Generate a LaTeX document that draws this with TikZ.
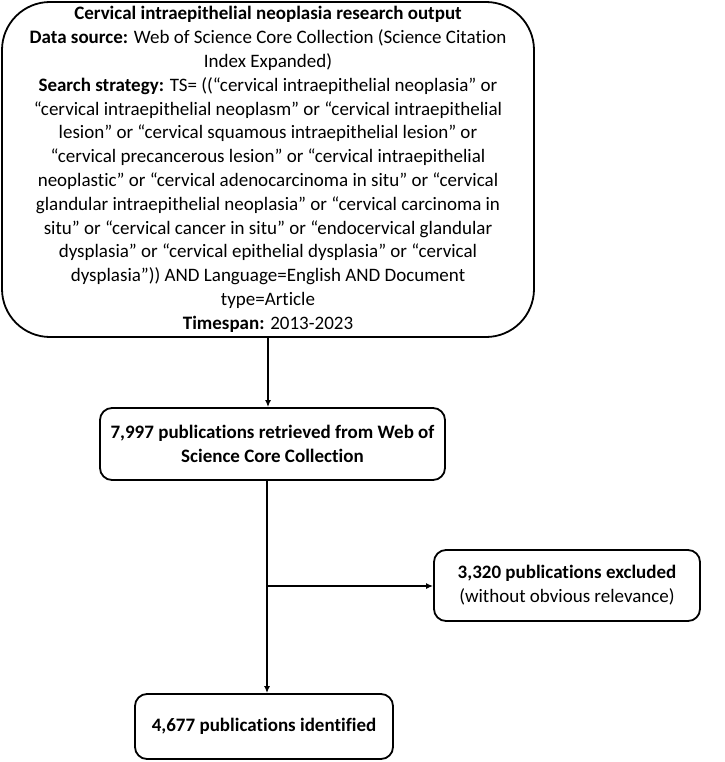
\documentclass[tikz,border=0pt]{standalone}
\usepackage{fontspec}
\setmainfont[Ligatures={NoCommon}]{Carlito}
\usetikzlibrary{arrows.meta}
\begin{document}
\begin{tikzpicture}[x=1pt,y=-1pt,
  box/.style={draw=black,line width=1.8pt,align=center,inner sep=0pt,
    font=\fontsize{19}{23.8}\selectfont},
  conn/.style={line width=1.8pt},
  arr/.style={conn,-{Latex[length=7pt,width=6pt]}}]
\useasboundingbox (0,0) rectangle (724,762);
\node[box,rounded corners=48pt,minimum width=532pt,minimum height=335pt] (top) at (268,169.5)
 {\textbf{Cervical intraepithelial neoplasia research output}\\
  \textbf{Data source:} Web of Science Core Collection (Science Citation\\
  Index Expanded)\\
  \textbf{Search strategy:} TS= ((“cervical intraepithelial neoplasia” or\\
  “cervical intraepithelial neoplasm” or “cervical intraepithelial\\
  lesion” or “cervical squamous intraepithelial lesion” or\\
  “cervical precancerous lesion” or “cervical intraepithelial\\
  neoplastic” or “cervical adenocarcinoma in situ” or “cervical\\
  glandular intraepithelial neoplasia” or “cervical carcinoma in\\
  situ” or “cervical cancer in situ” or “endocervical glandular\\
  dysplasia” or “cervical epithelial dysplasia” or “cervical\\
  dysplasia”)) AND Language=English AND Document\\
  type=Article\\
  \textbf{Timespan:} 2013-2023};
\node[box,rounded corners=12pt,minimum width=345pt,minimum height=72pt] (mid) at (272.5,444)
 {\textbf{7,997 publications retrieved from Web of}\\ \textbf{Science Core Collection}};
\node[box,rounded corners=12pt,minimum width=266pt,minimum height=71pt] (excl) at (567,585.5)
 {\textbf{3,320 publications excluded}\\ (without obvious relevance)};
\node[box,rounded corners=12pt,minimum width=258pt,minimum height=65pt] (bot) at (264,726.5)
 {\textbf{4,677 publications identified}};
\coordinate (j) at (267,586);
\draw[arr] (top.south) -- (top.south |- mid.north);
\draw[arr] (mid.south -| j) -- (bot.north -| j);
\draw[arr] (j) -- (excl.west |- j);
\end{tikzpicture}
\end{document}
